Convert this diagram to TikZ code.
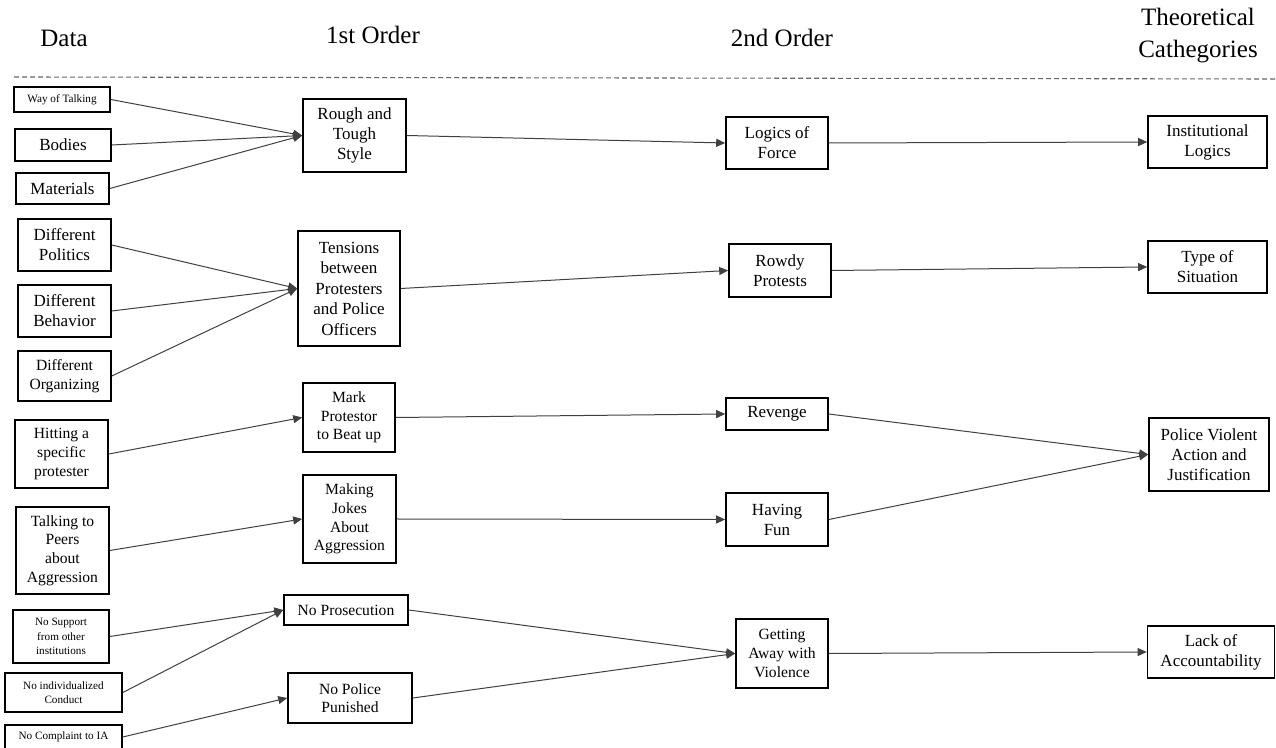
\documentclass[tikz,border=0pt]{standalone}
\usepackage{fontspec}
\setmainfont{Liberation Serif}
\usetikzlibrary{arrows.meta}
\begin{document}
\begin{tikzpicture}[x=0.5pt,y=-0.5pt,
  box/.style={draw=black, line width=0.8pt, inner sep=0pt, align=center, font=\fontsize{8.5}{10}\selectfont},
  sbox/.style={box, font=\fontsize{7.8}{9.3}\selectfont},
  tbox/.style={box, font=\fontsize{5.6}{7.1}\selectfont},
  hdr/.style={font=\fontsize{12.5}{16}\selectfont, align=center},
  link/.style={draw=black!75, line width=0.5pt, -{Triangle[length=4.5pt,width=4pt]}},
  sep/.style={draw=black!60, line width=0.55pt, dash pattern=on 2.5pt off 1.5pt}]
\useasboundingbox (0,0) rectangle (1276,748);

% headers
\node[hdr] (hdata) at (64,38) {Data};
\node[hdr] (hfirst) at (373,35) {1st Order};
\node[hdr] (hsecond) at (782,38) {2nd Order};
\node[hdr] (htheo) at (1198,36) {Theoretical\\Cathegories};
\coordinate (sepL) at (14,77);
\coordinate (sepR) at (1276,79);
\draw[sep] (sepL) -- (sepR);

% data
\node[tbox, minimum width=48pt, minimum height=12.5pt] (way) at (62,99.5) {Way of Talking};
\node[box, minimum width=48pt, minimum height=16pt] (bodies) at (63,145) {Bodies};
\node[box, minimum width=46.5pt, minimum height=15.5pt] (materials) at (62.5,188.5) {Materials};
\node[box, minimum width=46.5pt, minimum height=26pt] (politics) at (64.5,245) {Different\\Politics};
\node[box, minimum width=46.5pt, minimum height=26pt] (behavior) at (64.5,311) {Different\\Behavior};
\node[sbox, minimum width=46.5pt, minimum height=25pt] (organizing) at (64.5,376) {Different\\Organizing};
\node[sbox, minimum width=46.5pt, minimum height=34pt] (hitting) at (61.5,454) {Hitting a\\specific\\protester};
\node[sbox, minimum width=46.5pt, minimum height=43.5pt] (talking) at (62.5,550.5) {Talking to\\Peers\\about\\Aggression};
\node[tbox, minimum width=48pt, minimum height=26.5pt] (nosupport) at (61,636.5) {No Support\\from other\\institutions};
\node[tbox, minimum width=58.5pt, minimum height=19.5pt] (noindiv) at (63.5,692.5) {No individualized\\Conduct};
\node[tbox, minimum width=58.5pt, minimum height=12pt] (nocomplaint) at (63.5,737) {No Complaint to IA};

% first order
\node[box, minimum width=51.5pt, minimum height=36.5pt] (rough) at (354.5,135.5) {Rough and\\Tough\\Style};
\node[box, minimum width=51pt, minimum height=57.5pt, font=\fontsize{8.5}{10.25}\selectfont] (tensions) at (349,288.5) {Tensions\\between\\Protesters\\and Police\\Officers};
\node[sbox, minimum width=46pt, minimum height=34.5pt] (mark) at (349,417.5) {Mark\\Protestor\\to Beat up};
\node[sbox, minimum width=46.5pt, minimum height=44pt] (jokes) at (349.5,519) {Making\\Jokes\\About\\Aggression};
\node[sbox, minimum width=62pt, minimum height=15pt] (noprosec) at (346,610) {No Prosecution};
\node[sbox, minimum width=62pt, minimum height=25pt] (nopolice) at (350,698) {No Police\\Punished};

% second order
\node[box, minimum width=51pt, minimum height=26pt] (force) at (777,143) {Logics of\\Force};
\node[box, minimum width=51pt, minimum height=26.5pt] (rowdy) at (780,270.5) {Rowdy\\Protests};
\node[box, minimum width=51pt, minimum height=16pt] (revenge) at (777,414) {Revenge};
\node[box, minimum width=51pt, minimum height=26.5pt] (fun) at (777,519.5) {Having\\Fun};
\node[sbox, minimum width=46pt, minimum height=34.5pt] (getaway) at (782,653.5) {Getting\\Away with\\Violence};

% theoretical
\node[box, minimum width=59.5pt, minimum height=26pt] (inst) at (1207.5,142) {Institutional\\Logics};
\node[box, minimum width=59.5pt, minimum height=26pt] (type) at (1207.5,267) {Type of\\Situation};
\node[box, minimum width=60pt, minimum height=36.5pt] (police) at (1209,454.5) {Police Violent\\Action and\\Justification};
\node[box, minimum width=63.5pt, minimum height=26pt] (lack) at (1211,652) {Lack of\\Accountability};

% connectors
\draw[link] (way.east) -- (rough.west);
\draw[link] (bodies.east) -- (rough.west);
\draw[link] (materials.east) -- (rough.west);
\draw[link] (politics.east) -- (tensions.west);
\draw[link] (behavior.east) -- (tensions.west);
\draw[link] (organizing.east) -- (tensions.west);
\draw[link] (hitting.east) -- (mark.west);
\draw[link] (talking.east) -- (jokes.west);
\draw[link] (nosupport.east) -- (noprosec.west);
\draw[link] (noindiv.east) -- (noprosec.west);
\draw[link] (nocomplaint.east) -- (nopolice.west);

\draw[link] (rough.east) -- (force.west);
\draw[link] (tensions.east) -- (rowdy.west);
\draw[link] (mark.east) -- (revenge.west);
\draw[link] (jokes.east) -- (fun.west);
\draw[link] (noprosec.east) -- (getaway.west);
\draw[link] (nopolice.east) -- (getaway.west);

\draw[link] (force.east) -- (inst.west);
\draw[link] (rowdy.east) -- (type.west);
\draw[link] (revenge.east) -- (police.west);
\draw[link] (fun.east) -- (police.west);
\draw[link] (getaway.east) -- (lack.west);
\end{tikzpicture}
\end{document}
